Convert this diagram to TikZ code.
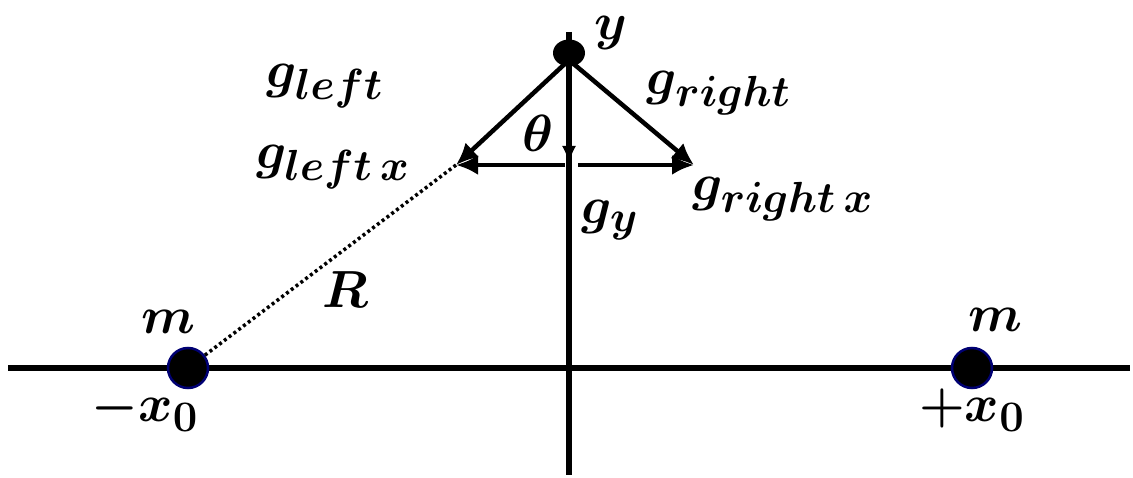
\documentclass[tikz,border=0pt]{standalone}
\usepackage{amsmath,bm}
\usetikzlibrary{arrows.meta,shapes.geometric}
\newcommand{\biglab}[1]{\scalebox{2.1}{\Huge\boldmath$#1$}}
\begin{document}
\begin{tikzpicture}[x=1pt,y=-1pt,
  axis/.style={line width=5.5pt},
  vec/.style={line width=4.5pt,-{Latex[length=22pt,width=20pt]}},
  lab/.style={inner sep=0pt},
  mass/.style={circle,fill=black,draw=blue!45!black,line width=2.5pt,minimum size=40pt,inner sep=0pt}]
\useasboundingbox (0,0) rectangle (1133,478);
% axes
\coordinate (xa) at (8,368);
\coordinate (xb) at (1130,368);
\coordinate (ya) at (569,32);
\coordinate (yb) at (569,475);
\draw[axis] (xa) -- (xb);
\draw[axis] (ya) -- (yb);
% top point
\node[ellipse,fill=black,minimum width=32pt,minimum height=27pt,inner sep=0pt] (top) at (569,53) {};
\coordinate (O) at (569,60);
\coordinate (L) at (456,165);
\coordinate (Rt) at (694,165);
\coordinate (Cl) at (565,165);
\coordinate (Cr) at (578,165);
\coordinate (D) at (569,164);
% masses
\node[mass] (m1) at (188,368) {};
\node[mass] (m2) at (972,368) {};
% vectors
\draw[vec] (O) -- (L);
\draw[vec] (O) -- (Rt);
\draw[vec] (Cl) -- (L);
\draw[vec] (Cr) -- (Rt);
\draw[line width=4.5pt,-{Latex[length=18pt,width=14pt]}] (O) -- (D);
% dotted R
\draw[line width=3.5pt,dash pattern=on 3pt off 3pt] (L) -- (m1);
% labels
\node[lab] (ly) at (611,33) {\biglab{y}};
\node[lab] (lgl) at (325,86) {\biglab{g_{left}}};
\node[lab] (lglx) at (333,167) {\biglab{g_{left\,x}}};
\node[lab] (lth) at (538,133) {\biglab{\theta}};
\node[lab] (lgr) at (719,93) {\biglab{g_{right}}};
\node[lab] (lgy) at (610,220) {\biglab{g_y}};
\node[lab] (lgrx) at (783,199) {\biglab{g_{right\,x}}};
\node[lab] (lR) at (345,290) {\biglab{R}};
\node[lab] (lm1) at (168,322) {\biglab{m}};
\node[lab] (lx1) at (145,410) {\biglab{-x_0}};
\node[lab] (lm2) at (995,320) {\biglab{m}};
\node[lab] (lx2) at (972,410) {\biglab{+x_0}};
\end{tikzpicture}
\end{document}
